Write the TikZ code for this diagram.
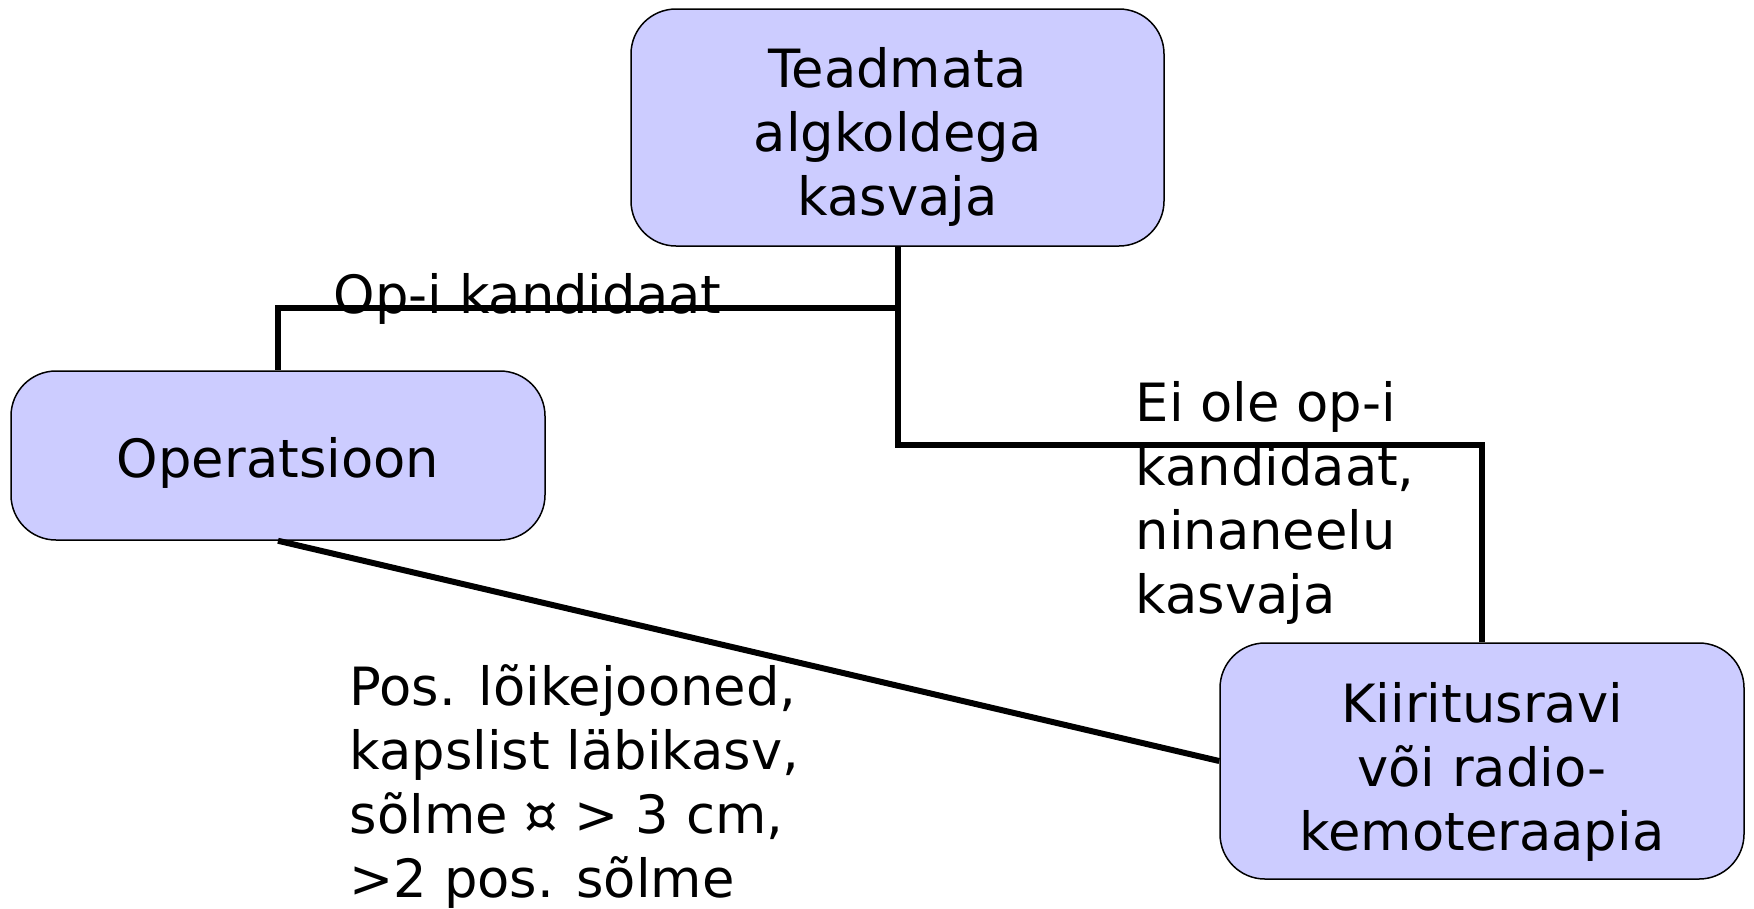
\documentclass[tikz,border=0pt]{standalone}
\usepackage{fontspec}
\setmainfont{DejaVu Sans}
\usepackage{xcolor}
\definecolor{boxfill}{RGB}{204, 204, 255}
\usepackage{tikz}
\usetikzlibrary{positioning}
\newcommand{\boxstrut}[1]{\rule{0pt}{#1}}
\tikzset{
  stepbox/.style={draw=black, line width=0.15mm, fill=boxfill, rounded corners=4.5mm,
    align=center, inner sep=0pt, font=\fontsize{15}{18.2}\selectfont},
  link/.style={line width=0.6mm},
  lbl/.style={align=left, inner sep=0pt, font=\fontsize{15}{18.2}\selectfont}
}

\begin{document}
\begin{tikzpicture}[x=0.1mm, y=-0.1mm]
  \useasboundingbox (0,0) rectangle (1754,908);
  % boxes
  \node[stepbox, minimum width=53.3mm, minimum height=23.7mm] (top) at (897.5,127.5)
    {\boxstrut{16.8pt}Teadmata\\algkoldega\\kasvaja};
  \node[stepbox, minimum width=53.4mm, minimum height=16.9mm] (op) at (278,455.5)
    {\boxstrut{15.4pt}Operatsioon};
  \node[stepbox, minimum width=52.4mm, minimum height=23.6mm] (kiir) at (1482,761)
    {\boxstrut{17.5pt}Kiiritusravi\\või radio-\\kemoteraapia};
  % branch points
  \coordinate (jL) at (897.5,308);
  \coordinate (jR) at (897.5,445);
  \draw[link] (top.south) -- (jL) -| (op.north);
  \draw[link] (jL) -- (jR) -| (kiir.north);
  \draw[link] (op.south) -- (kiir.west);
  % labels (anchored at the last baseline)
  \node[lbl, anchor=base west] (lop) at (333,313) {Op-i kandidaat};
  \node[lbl, anchor=base west] (lnot) at (1135,613)
    {Ei ole op-i\\kandidaat,\\ninaneelu\\kasvaja};
  \node[lbl, anchor=base west] (lpos) at (349,897)
    {Pos. lõikejooned,\\kapslist läbikasv,\\sõlme ¤ > 3 cm,\\>2 pos. sõlme};
\end{tikzpicture}
\end{document}
